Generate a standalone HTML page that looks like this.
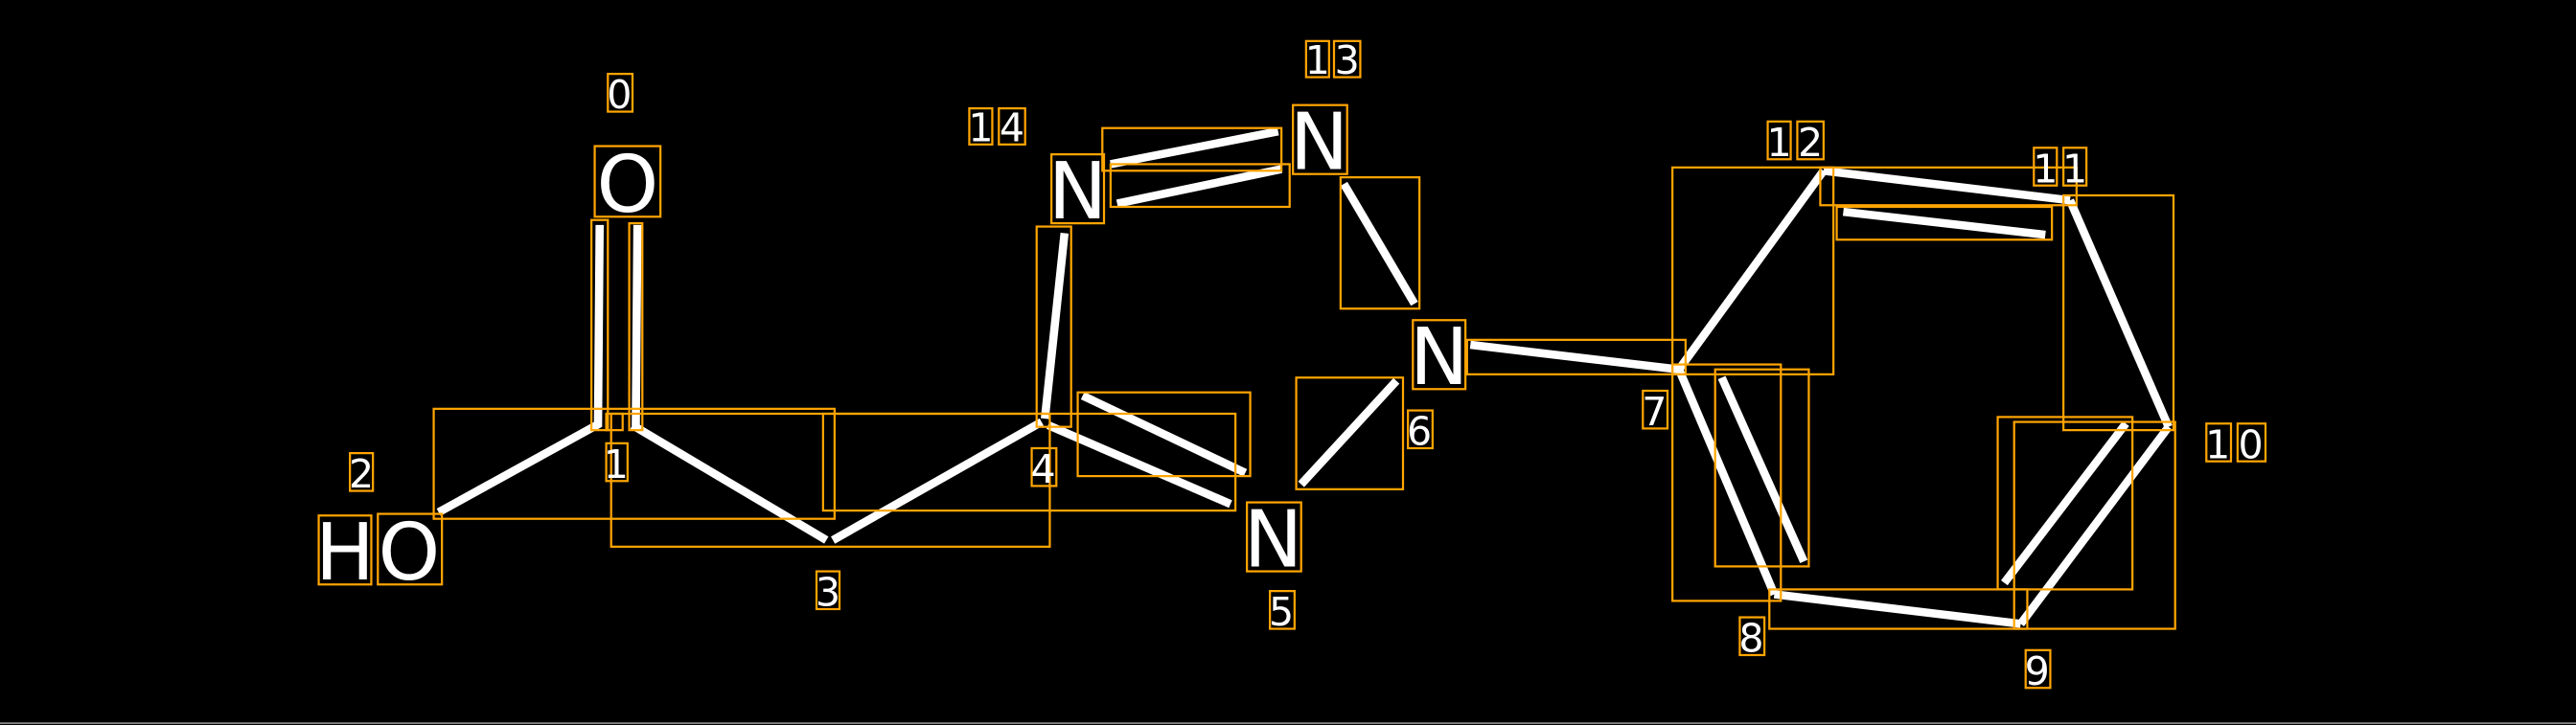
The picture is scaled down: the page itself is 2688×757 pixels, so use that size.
<!DOCTYPE html>
<html><head><meta charset="utf-8"><style>
html,body{margin:0;padding:0;background:#000;width:2688px;height:757px;overflow:hidden}
svg{display:block}
text{font-family:"DejaVu Sans","Liberation Sans",sans-serif;fill:#fff;text-anchor:middle}
</style></head><body>
<svg width="2688" height="757" viewBox="0 0 1568 441.6" preserveAspectRatio="none">
<rect x="0" y="0" width="1568" height="441.6" fill="#000"/>
<line x1="0" y1="440.5" x2="1568" y2="440.5" stroke="#888" stroke-width="1"/>
<g stroke="#fff" stroke-width="5" stroke-linecap="butt">
<line x1="365" y1="137" x2="364" y2="260"/>
<line x1="388" y1="137" x2="387" y2="260"/>
<line x1="267" y1="312" x2="365" y2="258"/>
<line x1="385" y1="259" x2="503" y2="329"/>
<line x1="507" y1="329" x2="634" y2="257"/>
<line x1="636" y1="255" x2="648" y2="142"/>
<line x1="638" y1="259" x2="749" y2="307"/>
<line x1="659" y1="241" x2="758" y2="288"/>
<line x1="676" y1="100" x2="778" y2="80"/>
<line x1="680" y1="124" x2="780" y2="103"/>
<line x1="818" y1="112" x2="861" y2="185"/>
<line x1="792" y1="295" x2="850" y2="232"/>
<line x1="895" y1="210" x2="1022" y2="225"/>
<line x1="1022" y1="225" x2="1110" y2="104"/>
<line x1="1110" y1="104" x2="1260" y2="122"/>
<line x1="1122" y1="129" x2="1245" y2="143"/>
<line x1="1260" y1="122" x2="1320" y2="260"/>
<line x1="1320" y1="260" x2="1230" y2="380"/>
<line x1="1294" y1="258" x2="1220" y2="355"/>
<line x1="1230" y1="380" x2="1080" y2="362"/>
<line x1="1080" y1="362" x2="1022" y2="225"/>
<line x1="1048" y1="230" x2="1098" y2="342"/>
</g>
<g fill="none" stroke="#ffa500" stroke-width="1.3">
<rect x="264" y="249" width="244" height="67"/>
<rect x="372" y="252" width="267" height="81"/>
<rect x="501" y="252" width="251" height="59"/>
<rect x="360" y="134" width="10" height="128"/>
<rect x="383" y="136" width="8" height="126"/>
<rect x="369" y="252" width="10" height="10"/>
<rect x="631" y="138" width="21" height="122"/>
<rect x="656" y="239" width="105" height="51"/>
<rect x="671" y="78" width="109" height="26"/>
<rect x="676" y="100" width="109" height="26"/>
<rect x="816" y="108" width="48" height="80"/>
<rect x="789" y="230" width="65" height="68"/>
<rect x="893" y="207" width="133" height="21"/>
<rect x="1018" y="102" width="98" height="126"/>
<rect x="1108" y="102" width="156" height="23"/>
<rect x="1118" y="126" width="131" height="20"/>
<rect x="1256" y="119" width="67" height="143"/>
<rect x="1216" y="254" width="82" height="105"/>
<rect x="1226" y="257" width="98" height="126"/>
<rect x="1077" y="359" width="157" height="24"/>
<rect x="1018" y="222" width="66" height="144"/>
<rect x="1044" y="225" width="57" height="120"/>
<rect x="362" y="89" width="40" height="43"/>
<rect x="194" y="314" width="32" height="42"/>
<rect x="230" y="313" width="39" height="43"/>
<rect x="640" y="94" width="32" height="42"/>
<rect x="787" y="64" width="33" height="42"/>
<rect x="860" y="195" width="32" height="42"/>
<rect x="759" y="306" width="33" height="42"/>
<rect x="370" y="45" width="15" height="23"/>
<rect x="213" y="276" width="14" height="23"/>
<rect x="369" y="270" width="13" height="23"/>
<rect x="497" y="348" width="14" height="23"/>
<rect x="628" y="273" width="15" height="23"/>
<rect x="590" y="66" width="14" height="22"/>
<rect x="608" y="66" width="16" height="22"/>
<rect x="795" y="25" width="14" height="22"/>
<rect x="812" y="25" width="16" height="22"/>
<rect x="773" y="360" width="15" height="23"/>
<rect x="857" y="250" width="15" height="23"/>
<rect x="1000" y="238" width="15" height="23"/>
<rect x="1076" y="74" width="14" height="23"/>
<rect x="1094" y="74" width="16" height="23"/>
<rect x="1238" y="90" width="14" height="23"/>
<rect x="1256" y="90" width="14" height="23"/>
<rect x="1343" y="258" width="15" height="23"/>
<rect x="1362" y="258" width="17" height="23"/>
<rect x="1059" y="376" width="15" height="23"/>
<rect x="1233" y="396" width="15" height="23"/>
</g>
<g font-size="48">
<text x="382" y="129">O</text>
<text x="210" y="353">H</text>
<text x="249" y="353">O</text>
<text x="656" y="133">N</text>
<text x="803" y="103">N</text>
<text x="876" y="234">N</text>
<text x="775" y="345">N</text>
</g>
<g font-size="24">
<text x="377" y="66">0</text>
<text x="220" y="297">2</text>
<text x="375" y="291">1</text>
<text x="504" y="369">3</text>
<text x="635" y="294">4</text>
<text x="597" y="86">1</text>
<text x="616" y="86">4</text>
<text x="802" y="45">1</text>
<text x="820" y="45">3</text>
<text x="780" y="381">5</text>
<text x="864" y="271">6</text>
<text x="1007" y="259">7</text>
<text x="1083" y="95">1</text>
<text x="1102" y="95">2</text>
<text x="1245" y="111">1</text>
<text x="1263" y="111">1</text>
<text x="1350" y="279">1</text>
<text x="1370" y="279">0</text>
<text x="1066" y="397">8</text>
<text x="1240" y="417">9</text>
</g>
</svg>
</body></html>
